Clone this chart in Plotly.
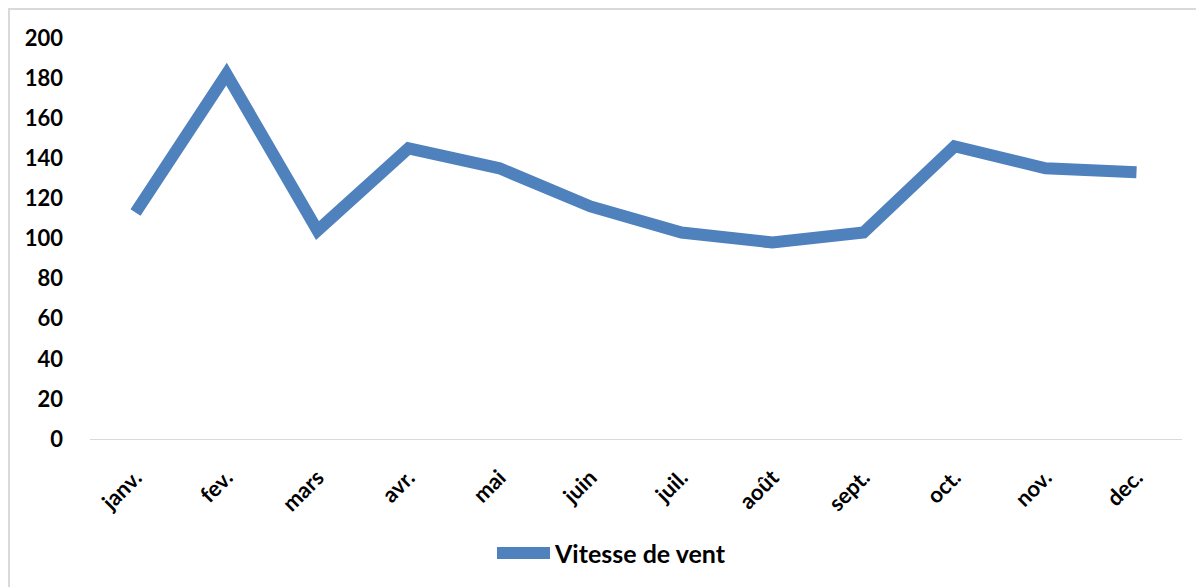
import plotly.graph_objects as go

months = ["janv.", "fev.", "mars", "avr.", "mai", "juin", "juil.", "août", "sept.", "oct.", "nov.", "dec."]
vitesse = [113, 182, 104, 145, 135, 116, 103, 98, 103, 146, 135, 133]
y_ticks = [0, 20, 40, 60, 80, 100, 120, 140, 160, 180, 200]
series_name = "Vitesse de vent"

OFF = 8  # page body margin
W, H = 1204 - OFF, 587 - OFF
L, R, T, B = 90 - OFF, 22, 38 - OFF, 148
pw, ph = W - L - R, H - T - B

def px_x(x):  # page pixel -> paper
    return (x - OFF - L) / pw

def px_y(y):
    return (H - B - (y - OFF)) / ph

blue = "#4F81BD"
font = dict(family="Lato, 'Open Sans', sans-serif", size=22, color="#000000", weight="bold")
legend_font = dict(family="Lato, 'Open Sans', sans-serif", size=25, color="#000000", weight="bold")

fig = go.Figure()
fig.add_trace(go.Scatter(x=months, y=vitesse, mode="lines", name=series_name,
                         line=dict(color=blue, width=12), showlegend=False))

fig.update_layout(
    width=W, height=H,
    margin=dict(l=L, r=R, t=T, b=B, pad=0),
    paper_bgcolor="white", plot_bgcolor="white",
    font=font,
    showlegend=False,
)
fig.update_xaxes(type="category", range=[-0.5, 11.5], tickangle=-45, showgrid=False,
                 showline=True, linecolor="#D9D9D9", linewidth=1, ticks="",
                 ticklabelstandoff=16, tickfont=font, zeroline=False)
fig.update_yaxes(range=[0, 200], tickvals=y_ticks, showgrid=False, showline=False,
                 zeroline=False, ticks="", ticklabelstandoff=26, tickfont=font)

# chart border
fig.add_shape(type="rect", xref="paper", yref="paper",
              x0=px_x(OFF + 1), x1=px_x(1204 + 20), y0=px_y(587 + 20), y1=px_y(OFF + 1),
              line=dict(color="#D9D9D9", width=2), fillcolor="rgba(0,0,0,0)", layer="below")

# legend
fig.add_shape(type="line", xref="paper", yref="paper",
              x0=px_x(497), x1=px_x(550), y0=px_y(553), y1=px_y(553),
              line=dict(color=blue, width=12))
fig.add_annotation(text=series_name, xref="paper", yref="paper", x=px_x(552), y=px_y(553),
                   xanchor="left", yanchor="middle", showarrow=False, font=legend_font)

fig.write_html("out.html")
